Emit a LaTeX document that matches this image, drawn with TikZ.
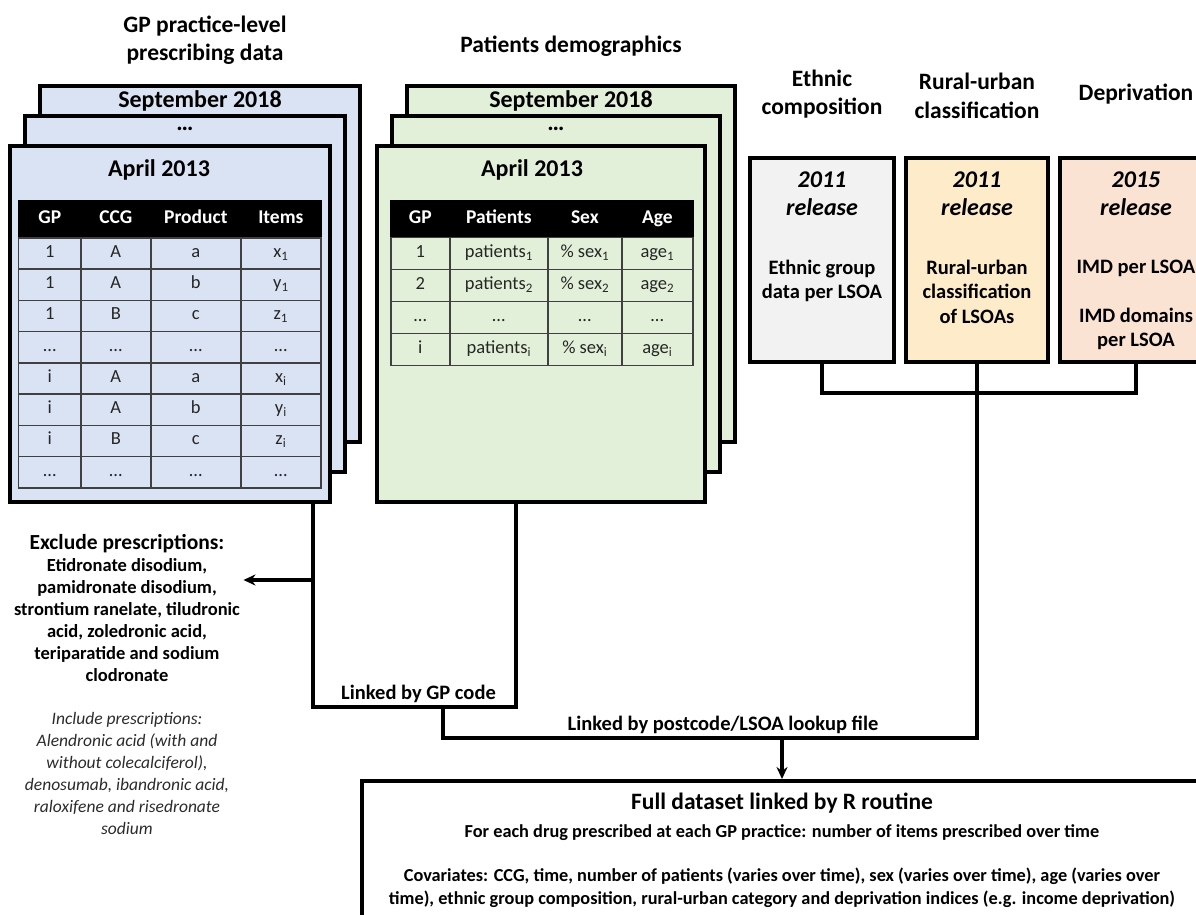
\documentclass[tikz,border=0pt]{standalone}
\usepackage{fontspec}
\setmainfont{Carlito}
\usepackage{tikz}
\usetikzlibrary{arrows.meta,positioning,calc,matrix}
\definecolor{pageblue}{HTML}{DAE3F3}
\definecolor{pagegreen}{HTML}{E2F0D9}
\definecolor{ethgrey}{HTML}{F2F2F2}
\definecolor{ruralyellow}{HTML}{FDEBC9}
\definecolor{deprorange}{HTML}{FBE3D4}
\definecolor{gridgrey}{HTML}{404040}
\definecolor{notegrey}{HTML}{2B2B2B}

\begin{document}
\begin{tikzpicture}[x=1pt,y=1pt,
  page/.style={rectangle,draw=black,line width=3.6pt,minimum width=320,minimum height=356,inner sep=0pt},
  bluepage/.style={page,fill=pageblue},
  greenpage/.style={page,fill=pagegreen,minimum width=328},
  srcbox/.style={rectangle,draw=black,line width=3.6pt,minimum height=204,inner sep=0pt},
  head/.style={align=center,font=\fontsize{23.5}{28.5}\selectfont\bfseries},
  month/.style={font=\fontsize{24}{28}\selectfont\bfseries},
  year/.style={align=center,font=\fontsize{24}{28}\selectfont\bfseries\itshape},
  body/.style={align=center,font=\fontsize{20.5}{24.5}\selectfont\bfseries},
  tbl/.style={matrix of nodes,inner sep=0pt,column sep=-1.3pt,row sep=-1.3pt,
    nodes={draw=gridgrey,line width=1.3pt,minimum height=31.25,text height=12,text depth=4,inner sep=0pt,text=black!85,font=\fontsize{18.5}{20}\selectfont},
    row 1/.style={nodes={fill=black,draw=black,text=white,minimum height=37,font=\fontsize{19.5}{22}\selectfont\bfseries}}},
  lab/.style={font=\fontsize{20.5}{24}\selectfont\bfseries},
  link/.style={line width=3.2pt,draw=black},
  arr/.style={-{Stealth[length=12pt,width=11pt]},line width=3.2pt,draw=black}
]
\useasboundingbox (0,0) rectangle (1196,914);
\clip (0,0) rectangle (1196,914);

\node[bluepage] (gpback) at (200,650) {};
\node[bluepage] (gpmid) at (185,620) {};
\node[bluepage] (gpfront) at (170,590) {};
\node[head,above=16pt of gpback,xshift=5] (gphead) {GP practice-level\\prescribing data};
\node[month] (gpsep) at ($(gpback.north)+(0,-17)$) {September 2018};
\node[month] (gpdots) at ($(gpmid.north)+(0,-15)$) {…};
\node[month,xshift=-11] (gpapr) at ($(gpfront.north)+(0,-26)$) {April 2013};
\matrix[tbl,anchor=north west,
  column 1/.style={nodes={minimum width=62}},column 2/.style={nodes={minimum width=70}},
  column 3/.style={nodes={minimum width=90}},column 4/.style={nodes={minimum width=80}}] (gptab) at (18,714) {
GP & CCG & Product & Items \\
1 & A & a & x\textsubscript{1} \\
1 & A & b & y\textsubscript{1} \\
1 & B & c & z\textsubscript{1} \\
… & … & … & … \\
i & A & a & x\textsubscript{i} \\
i & A & b & y\textsubscript{i} \\
i & B & c & z\textsubscript{i} \\
… & … & … & … \\
};

\node[greenpage] (demback) at (571,650) {};
\node[greenpage] (demmid) at (556,620) {};
\node[greenpage] (demfront) at (541,590) {};
\node[head,above=24pt of demback] (demhead) {Patients demographics};
\node[month] (demsep) at ($(demback.north)+(0,-17)$) {September 2018};
\node[month] (demdots) at ($(demmid.north)+(0,-15)$) {…};
\node[month,xshift=-9] (demapr) at ($(demfront.north)+(0,-26)$) {April 2013};
\matrix[tbl,anchor=north west,nodes={minimum height=32},
  column 1/.style={nodes={minimum width=59}},column 2/.style={nodes={minimum width=98}},
  column 3/.style={nodes={minimum width=74}},column 4/.style={nodes={minimum width=71}}] (demtab) at (390,714) {
GP & Patients & Sex & Age \\
1 & patients\textsubscript{1} & \% sex\textsubscript{1} & age\textsubscript{1} \\
2 & patients\textsubscript{2} & \% sex\textsubscript{2} & age\textsubscript{2} \\
… & … & … & … \\
i & patients\textsubscript{i} & \% sex\textsubscript{i} & age\textsubscript{i} \\
};

\node[srcbox,fill=ethgrey,minimum width=144] (ethn) at (822,654) {};
\node[srcbox,fill=ruralyellow,minimum width=142] (rural) at (977,654) {};
\node[srcbox,fill=deprorange,minimum width=152] (depr) at (1136,654) {};
\node[head,above=34pt of ethn] (ethnhead) {Ethnic\\composition};
\node[head,above=34pt of rural] (ruralhead) {Rural-urban\\classification};
\node[head] (deprhead) at (depr.north |- ethnhead) {Deprivation};
\node[year] (ethnyear) at ($(ethn.north)+(0,-38)$) {2011\\release};
\node[year] (ruralyear) at ($(rural.north)+(0,-38)$) {2011\\release};
\node[year] (depryear) at ($(depr.north)+(0,-38)$) {2015\\release};
\node[body,anchor=north] (ethntext) at ($(ethn.north)+(0,-100)$) {Ethnic group\\data per LSOA};
\node[body,anchor=north] (ruraltext) at ($(rural.north)+(0,-100)$) {Rural-urban\\classification\\of LSOAs};
\node[body,anchor=north] (deprtext) at ($(depr.north)+(0,-100)$) {IMD per LSOA\\[24.5pt]IMD domains\\per LSOA};

\node[align=center,font=\fontsize{18.5}{22}\selectfont\bfseries] (excl) at (127,306) {{\fontsize{21.5}{24}\selectfont Exclude prescriptions:}\\Etidronate disodium,\\pamidronate disodium,\\strontium ranelate, tiludronic\\acid, zoledronic acid,\\teriparatide and sodium\\clodronate};
\node[align=center,text=notegrey,font=\fontsize{17.5}{22}\selectfont\itshape] (incl) at (127,141) {Include prescriptions:\\Alendronic acid (with and\\without colecalciferol),\\denosumab, ibandronic acid,\\raloxifene and risedronate\\sodium};

\node[draw=black,line width=3.6pt,minimum width=840,minimum height=170,anchor=north,inner sep=0pt] (full) at (782,135) {};
\node[font=\fontsize{23.5}{27}\selectfont\bfseries] (fulltitle) at (782,111) {Full dataset linked by R routine};
\node[font=\fontsize{18.3}{21}\selectfont\bfseries] (fulldrug) at (782,81) {For each drug prescribed at each GP practice: number of items prescribed over time};
\node[align=center,font=\fontsize{18.3}{23}\selectfont\bfseries] (fullcov) at (782,26) {Covariates: CCG, time, number of patients (varies over time), sex (varies over time), age (varies over\\time), ethnic group composition, rural-urban category and deprivation indices (e.g. income deprivation)};

\coordinate (gpl) at (313,207);
\coordinate (gpr) at (516,207);
\coordinate (gpmid) at (443,207);
\coordinate (lsoa) at (443,176);
\coordinate (areajoin) at (977,521);
\coordinate (exclpt) at (313,334);
\draw[link] (gpfront.south -| gpl) -- (gpl) -- (gpr) -- (demfront.south -| gpr);
\draw[arr] (exclpt) -- (exclpt -| excl.east);
\draw[link] (ethn.south) |- (areajoin) -| (depr.south);
\draw[link] (rural.south) -- (lsoa -| rural.south) -- (lsoa) -- (gpmid);
\draw[arr] (full.north |- lsoa) -- (full.north);
\path (gpl) -- node[lab,above=1pt,xshift=4] (gplab) {Linked by GP code} (gpr);
\path (lsoa) -- node[lab,above=1pt,xshift=13] (lsoalab) {Linked by postcode/LSOA lookup file} (lsoa -| rural.south);
\end{tikzpicture}
\end{document}
